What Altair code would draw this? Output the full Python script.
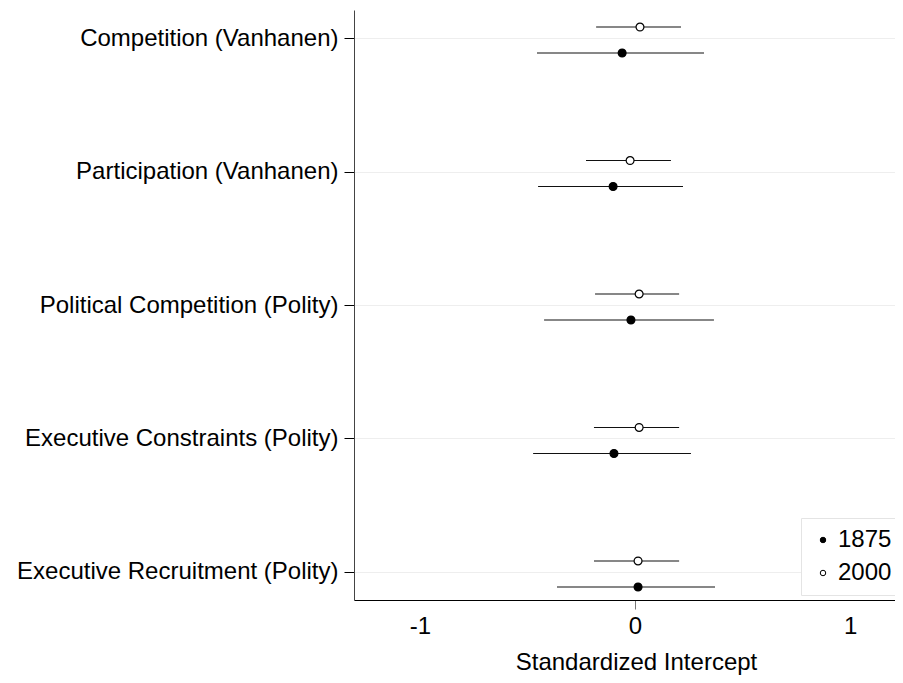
import altair as alt
import pandas as pd

measures = [
    "Competition (Vanhanen)",
    "Participation (Vanhanen)",
    "Political Competition (Polity)",
    "Executive Constraints (Polity)",
    "Executive Recruitment (Polity)",
]
series = ["1875", "2000"]

est_1875 = [-0.060, -0.102, -0.019, -0.098, 0.014]
lo_1875 = [-0.456, -0.451, -0.423, -0.474, -0.363]
hi_1875 = [0.321, 0.223, 0.367, 0.260, 0.372]

est_2000 = [0.023, -0.023, 0.019, 0.019, 0.014]
lo_2000 = [-0.181, -0.228, -0.186, -0.191, -0.191]
hi_2000 = [0.214, 0.167, 0.205, 0.205, 0.205]

x_ticks = [-1, 0, 1]

rows = []
for s, est, lo, hi in [("1875", est_1875, lo_1875, hi_1875), ("2000", est_2000, lo_2000, hi_2000)]:
    for m, e, l, h in zip(measures, est, lo, hi):
        rows.append({"measure": m, "series": s, "est": e, "lo": l, "hi": h})
df = pd.DataFrame(rows)

FONT = "Liberation Sans"

x_scale = alt.Scale(domain=[-1.307, 1.209], nice=False, zero=False)
y_enc = alt.Y(
    "measure:N",
    sort=measures,
    scale=alt.Scale(type="point", padding=0.21),
    axis=alt.Axis(
        title=None,
        labelFont=FONT,
        labelFontSize=24,
        labelColor="black",
        labelPadding=6,
        labelLimit=0,
        tickSize=10,
        tickColor="black",
        tickWidth=1,
        domainColor="#444444",
        domainWidth=1,
        grid=True,
        gridColor="#eeeeee",
        gridWidth=1,
    ),
)

x_axis = alt.Axis(
    values=x_ticks,
    labelExpr="'' + datum.value",
    title="Standardized Intercept",
    titleFont=FONT,
    titleFontSize=24,
    titleFontWeight="normal",
    titleColor="black",
    titlePadding=12,
    titleX=282,
    labelFont=FONT,
    labelFontSize=24,
    labelColor="black",
    labelPadding=5,
    tickSize=9,
    tickColor={"condition": {"test": "datum.value === 0", "value": "#777777"}, "value": "transparent"},
    domainColor="black",
    domainWidth=1,
    grid=False,
)

base = alt.Chart(df).encode(y=y_enc)

offsets = {"1875": 15, "2000": -11}
layers = []
for s in series:
    sub = base.transform_filter(alt.datum.series == s)
    rule = sub.mark_rule(yOffset=offsets[s], color="#111111", strokeWidth=1.1).encode(
        x=alt.X("lo:Q", scale=x_scale, axis=x_axis),
        x2="hi:Q",
    )
    layers.append(rule)
for s in series:
    sub = base.transform_filter(alt.datum.series == s)
    pt = sub.mark_point(
        yOffset=offsets[s], shape="circle", filled=True, stroke="black", strokeWidth=1.2, opacity=1, size=62
    ).encode(
        x=alt.X("est:Q", scale=x_scale, axis=x_axis),
        fill=alt.Fill(
            "series:N",
            scale=alt.Scale(domain=series, range=["black", "white"]),
            legend=alt.Legend(
                title=None,
                orient="none",
                legendX=447,
                legendY=508,
                padding=10,
                fillColor="white",
                strokeColor="#e4e4e4",
                labelFont=FONT,
                labelFontSize=24,
                labelColor="black",
                symbolType="circle",
                symbolSize=30,
                symbolStrokeColor="black",
                symbolStrokeWidth=1,
                symbolOpacity=1,
                rowPadding=9,
                labelOffset=3,
            ),
        ),
    )
    layers.append(pt)

chart = (
    alt.layer(*layers)
    .properties(
        width=541,
        height=590,
        background="white",
        autosize=alt.AutoSizeParams(type="none"),
        padding={"left": 346, "top": 2, "right": 0, "bottom": 75},
    )
    .configure_view(strokeWidth=0, stroke=None)
)

chart.save("out.html", embed_options={"renderer": "svg", "actions": False})
